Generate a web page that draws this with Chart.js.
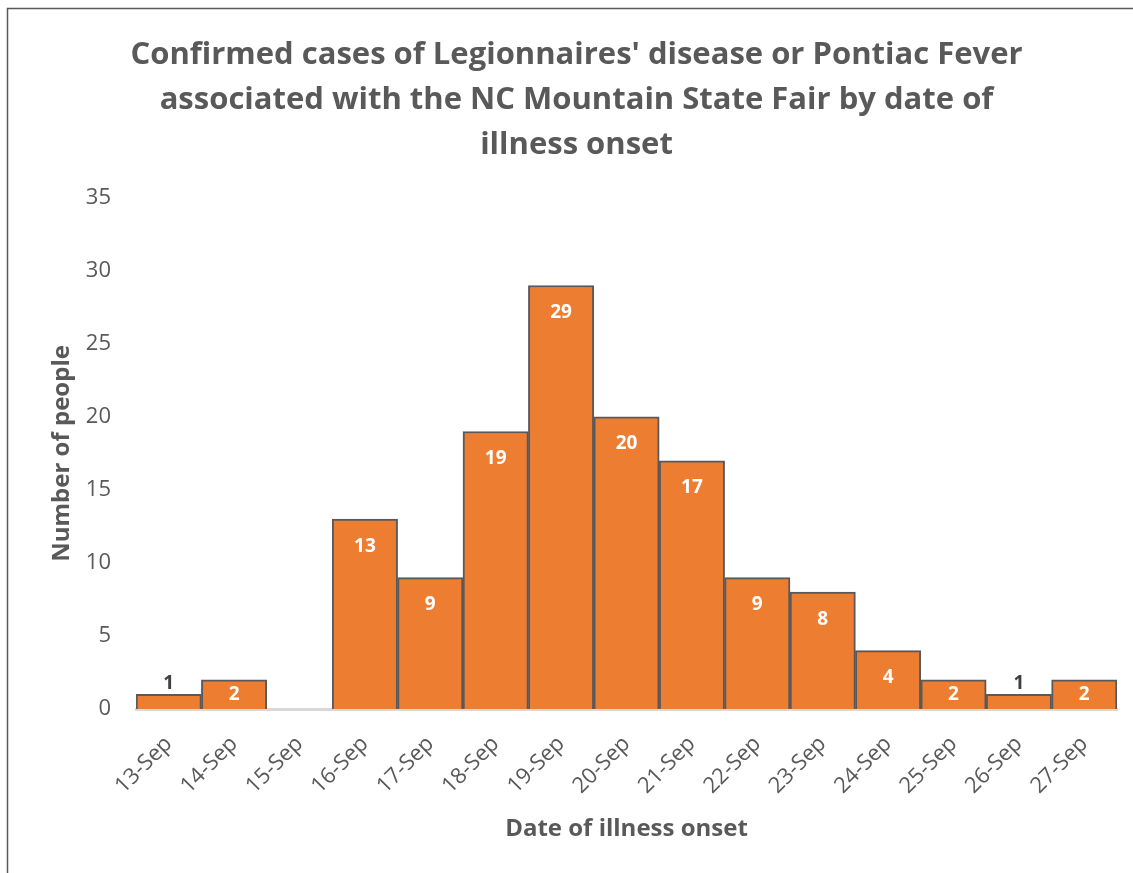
<!DOCTYPE html>
<html>
<head>
<meta charset="utf-8">
<script src="https://cdn.jsdelivr.net/npm/chart.js@4"></script>
<style>
  html, body { margin: 0; padding: 0; background: #fff; }
  #wrap { position: relative; width: 1133px; height: 873px; }
</style>
</head>
<body>
<div id="wrap"><canvas id="chart" width="1133" height="873"></canvas></div>
<script>
  const dates = ['13-Sep', '14-Sep', '15-Sep', '16-Sep', '17-Sep', '18-Sep', '19-Sep', '20-Sep',
                 '21-Sep', '22-Sep', '23-Sep', '24-Sep', '25-Sep', '26-Sep', '27-Sep'];
  const cases = [1, 2, 0, 13, 9, 19, 29, 20, 17, 9, 8, 4, 2, 1, 2];
  const yTicks = [0, 5, 10, 15, 20, 25, 30, 35];

  const grey = '#595959';
  const font = '"Open Sans", "Noto Sans", sans-serif';

  // frame around the chart (left + top edges are visible)
  const framePlugin = {
    id: 'frame',
    beforeDraw(chart) {
      const ctx = chart.ctx;
      ctx.save();
      ctx.fillStyle = '#fff';
      ctx.fillRect(0, 0, chart.width, chart.height);
      ctx.strokeStyle = grey;
      ctx.lineWidth = 1.5;
      ctx.beginPath();
      ctx.moveTo(7.5, chart.height);
      ctx.lineTo(7.5, 8.5);
      ctx.lineTo(chart.width, 8.5);
      ctx.stroke();
      ctx.restore();
    }
  };

  // value labels: inside the top of the bar in white, above it when the bar is too short
  const labelPlugin = {
    id: 'barLabels',
    afterDatasetsDraw(chart) {
      const ctx = chart.ctx;
      const meta = chart.getDatasetMeta(0);
      ctx.save();
      ctx.font = 'bold 19px ' + font;
      ctx.textAlign = 'center';
      ctx.textBaseline = 'middle';
      meta.data.forEach((bar, i) => {
        const v = cases[i];
        if (!v) return;
        const h = bar.base - bar.y;
        if (h < 20) {
          ctx.fillStyle = '#404040';
          ctx.fillText(v, bar.x, bar.y - 11);
        } else {
          ctx.fillStyle = '#fff';
          ctx.fillText(v, bar.x, bar.y + Math.min(27, h / 2));
        }
      });
      ctx.restore();
    }
  };

  new Chart(document.getElementById('chart'), {
    type: 'bar',
    data: {
      labels: dates,
      datasets: [{
        data: cases,
        backgroundColor: '#ED7D31',
        borderColor: grey,
        borderWidth: 2,
        barPercentage: 1,
        categoryPercentage: 1
      }]
    },
    plugins: [framePlugin, labelPlugin],
    options: {
      responsive: false,
      animation: false,
      layout: { padding: { left: 36, right: 16, top: 0, bottom: 0 } },
      plugins: {
        legend: { display: false },
        tooltip: { enabled: false },
        title: {
          display: true,
          text: ["Confirmed cases of Legionnaires' disease or Pontiac Fever",
                 'associated with the NC Mountain State Fair by date of',
                 'illness onset'],
          color: grey,
          font: { family: font, size: 31, weight: 'bold', lineHeight: 1.45 },
          padding: { top: 33, bottom: 30 }
        }
      },
      scales: {
        x: {
          grid: { display: false },
          border: { display: true, color: '#d9d9d9', width: 3 },
          ticks: {
            color: grey,
            font: { family: font, size: 22 },
            minRotation: 45,
            maxRotation: 45,
            padding: 14
          },
          title: {
            display: true,
            text: 'Date of illness onset',
            color: grey,
            font: { family: font, size: 24, weight: 'bold' },
            padding: { top: 0, bottom: 29 }
          },
          afterFit(scale) { scale.height = 164; }
        },
        y: {
          min: 0,
          max: 35,
          afterBuildTicks(scale) { scale.ticks = yTicks.map(v => ({ value: v })); },
          grid: { display: false, drawTicks: false },
          border: { display: false },
          ticks: {
            color: grey,
            font: { family: font, size: 22 },
            padding: 25
          },
          title: {
            display: true,
            text: 'Number of people',
            color: grey,
            font: { family: font, size: 24, weight: 'bold' },
            padding: { top: 12, bottom: 0 }
          },
          afterFit(scale) { scale.width = 100; }
        }
      }
    }
  });
</script>
</body>
</html>
